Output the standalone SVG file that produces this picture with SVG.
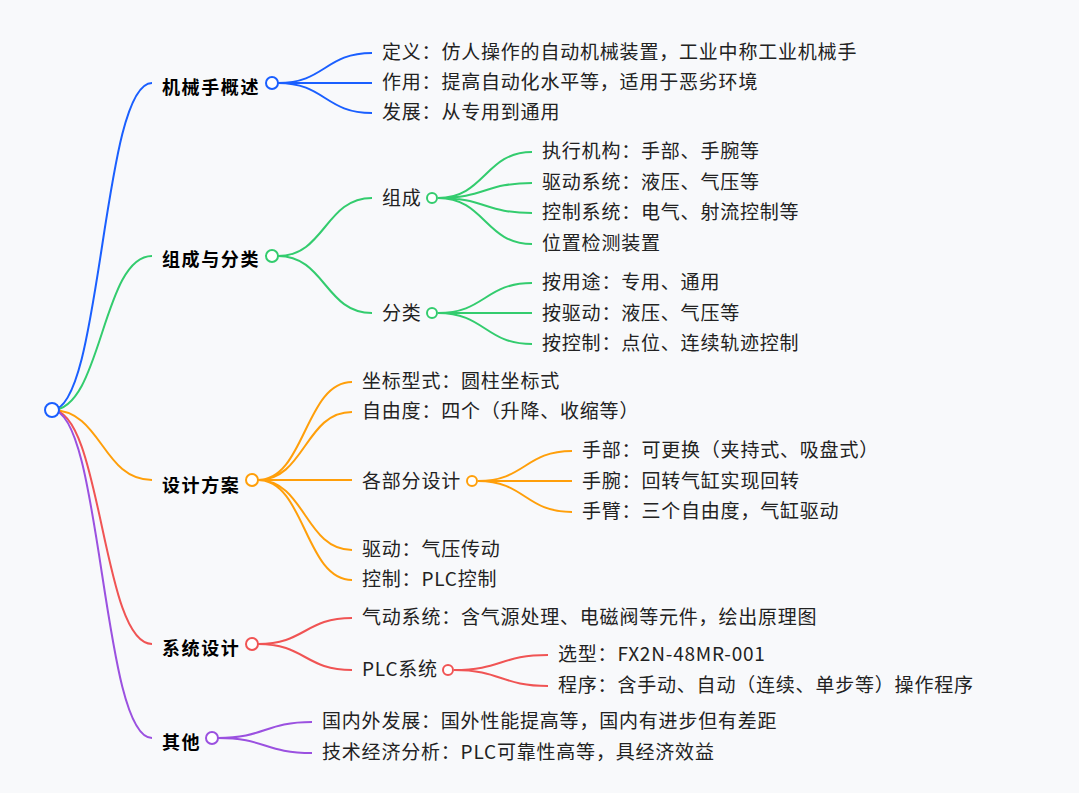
<svg xmlns="http://www.w3.org/2000/svg" width="1079" height="793" viewBox="0 0 1079 793">
<style>
text{font-family:"Noto Sans CJK SC","Noto Sans",sans-serif;font-size:19px;letter-spacing:0.8px;fill:#222}
.b{font-weight:bold;font-size:18px;letter-spacing:1.6px;fill:#000}
path{fill:none;stroke-width:2}
circle{fill:#fff;stroke-width:2}
.c1{stroke:#1a5fff}.c2{stroke:#33cc6e}.c3{stroke:#ff9f0a}.c4{stroke:#f05454}.c5{stroke:#9b51e0}
</style>
<rect width="1079" height="793" fill="#f8f9fb"/>
<g id="connectors">
<path class="c1" d="M52 410C102 410 102 83 152 83"/>
<path class="c2" d="M52 410C102 410 102 256 152 256"/>
<path class="c3" d="M52 410C102 410 102 480 152 480"/>
<path class="c4" d="M52 410C102 410 102 644 152 644"/>
<path class="c5" d="M52 410C102 410 102 738 152 738"/>
<path class="c1" d="M278 83C325 83 325 53 372 53M278 83H372M278 83C325 83 325 113 372 113"/>
<path class="c2" d="M278 256C325 256 325 198 372 198M278 256C325 256 325 313 372 313"/>
<path class="c2" d="M438 198C485 198 485 152 532 152M438 198C485 198 485 183 532 183M438 198C485 198 485 213 532 213M438 198C485 198 485 244 532 244"/>
<path class="c2" d="M438 313C485 313 485 283 532 283M438 313H532M438 313C485 313 485 344 532 344"/>
<path class="c3" d="M258 480C305 480 305 382 352 382M258 480C305 480 305 412 352 412M258 480H352M258 480C305 480 305 550 352 550M258 480C305 480 305 580 352 580"/>
<path class="c3" d="M478 481C525 481 525 451 572 451M478 481H572M478 481C525 481 525 512 572 512"/>
<path class="c4" d="M258 644C305 644 305 618 352 618M258 644C305 644 305 670 352 670"/>
<path class="c4" d="M454 670C501 670 501 655 548 655M454 670C501 670 501 686 548 686"/>
<path class="c5" d="M218 738C265 738 265 722 312 722M218 738C265 738 265 753 312 753"/>
</g>
<g id="root"><circle class="c1" cx="52" cy="410" r="7"/></g>
<g id="n1"><text class="b" x="162" y="94">机械手概述</text><circle class="c1" cx="272" cy="83" r="6"/></g>
<g id="n1a"><text x="382" y="59">定义：仿人操作的自动机械装置，工业中称工业机械手</text></g>
<g id="n1b"><text x="382" y="89">作用：提高自动化水平等，适用于恶劣环境</text></g>
<g id="n1c"><text x="382" y="119">发展：从专用到通用</text></g>
<g id="n2"><text class="b" x="162" y="266">组成与分类</text><circle class="c2" cx="272" cy="256" r="6"/></g>
<g id="n2a"><text x="382" y="205">组成</text><circle class="c2" cx="432" cy="198" r="5"/></g>
<g id="n2a1"><text x="542" y="158">执行机构：手部、手腕等</text></g>
<g id="n2a2"><text x="542" y="189">驱动系统：液压、气压等</text></g>
<g id="n2a3"><text x="542" y="219">控制系统：电气、射流控制等</text></g>
<g id="n2a4"><text x="542" y="250">位置检测装置</text></g>
<g id="n2b"><text x="382" y="320">分类</text><circle class="c2" cx="432" cy="313" r="5"/></g>
<g id="n2b1"><text x="542" y="289">按用途：专用、通用</text></g>
<g id="n2b2"><text x="542" y="320">按驱动：液压、气压等</text></g>
<g id="n2b3"><text x="542" y="350">按控制：点位、连续轨迹控制</text></g>
<g id="n3"><text class="b" x="162" y="492">设计方案</text><circle class="c3" cx="252" cy="480" r="6"/></g>
<g id="n3a"><text x="362" y="388">坐标型式：圆柱坐标式</text></g>
<g id="n3b"><text x="362" y="418">自由度：四个（升降、收缩等）</text></g>
<g id="n3c"><text x="362" y="488">各部分设计</text><circle class="c3" cx="472" cy="481" r="5"/></g>
<g id="n3c1"><text x="582" y="457">手部：可更换（夹持式、吸盘式）</text></g>
<g id="n3c2"><text x="582" y="488">手腕：回转气缸实现回转</text></g>
<g id="n3c3"><text x="582" y="518">手臂：三个自由度，气缸驱动</text></g>
<g id="n3d"><text x="362" y="556">驱动：气压传动</text></g>
<g id="n3e"><text x="362" y="586">控制：PLC控制</text></g>
<g id="n4"><text class="b" x="162" y="655">系统设计</text><circle class="c4" cx="252" cy="644" r="6"/></g>
<g id="n4a"><text x="362" y="624">气动系统：含气源处理、电磁阀等元件，绘出原理图</text></g>
<g id="n4b"><text x="362" y="676">PLC系统</text><circle class="c4" cx="448" cy="670" r="5"/></g>
<g id="n4b1"><text x="558" y="661">选型：FX2N-48MR-001</text></g>
<g id="n4b2"><text x="558" y="692">程序：含手动、自动（连续、单步等）操作程序</text></g>
<g id="n5"><text class="b" x="162" y="749">其他</text><circle class="c5" cx="212" cy="738" r="6"/></g>
<g id="n5a"><text x="322" y="728">国内外发展：国外性能提高等，国内有进步但有差距</text></g>
<g id="n5b"><text x="322" y="759">技术经济分析：PLC可靠性高等，具经济效益</text></g>
</svg>
